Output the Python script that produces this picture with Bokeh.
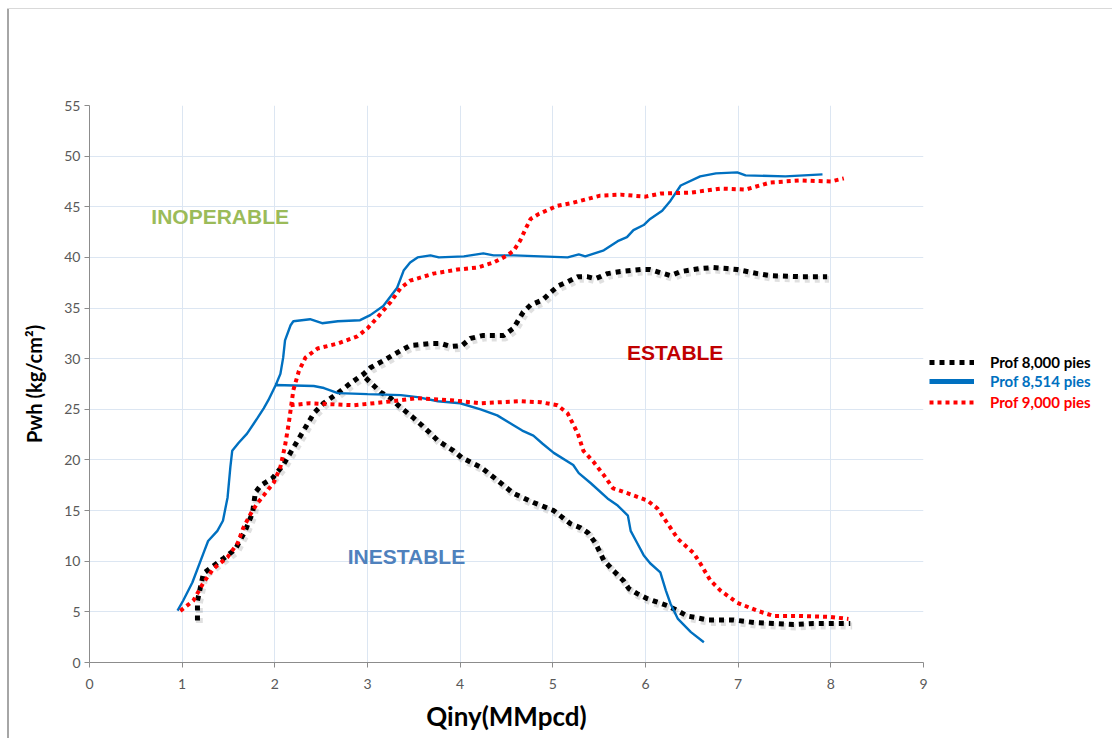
import numpy as np
from bokeh.plotting import figure
from bokeh.layouts import row
from bokeh.models import ColumnDataSource, Legend, LegendItem, FixedTicker, Range1d
from bokeh.core.properties import value
from bokeh.embed import file_html
from bokeh.resources import INLINE

# ---------------- data ----------------
# Prof 8,000 pies (black dotted) - rising branch
black_up_x = [1.165, 1.165, 1.23, 1.45, 1.575, 1.68, 1.76, 1.79, 1.85, 1.975, 2.09, 2.2, 2.31, 2.42,
              2.525, 2.68, 2.82, 2.96, 3.03, 3.17, 3.32, 3.46, 3.68, 3.79, 3.9, 4.02, 4.11, 4.25,
              4.47, 4.575, 4.68, 4.76, 4.89, 4.97, 5.06, 5.16, 5.27, 5.37, 5.46, 5.59, 5.73, 5.95,
              6.05, 6.16, 6.27, 6.38, 6.59, 6.73, 6.88, 6.99, 7.21, 7.35, 7.67, 7.96]
black_up_y = [4.15, 6.1, 8.8, 10.3, 11.2, 13.0, 14.8, 16.8, 17.5, 18.2, 19.5, 21.2, 22.9, 24.6,
              25.6, 26.6, 27.6, 28.5, 29.1, 29.8, 30.6, 31.3, 31.5, 31.5, 31.2, 31.3, 32.0, 32.3,
              32.3, 33.0, 34.6, 35.3, 35.8, 36.5, 37.2, 37.6, 38.1, 38.1, 37.9, 38.4, 38.6, 38.8,
              38.8, 38.5, 38.2, 38.6, 38.9, 39.0, 38.9, 38.8, 38.4, 38.2, 38.1, 38.1]
# Prof 8,000 pies - falling branch
black_dn_x = [2.98, 3.14, 3.25, 3.33, 3.49, 3.59, 3.76, 3.93, 4.02, 4.22, 4.36, 4.575, 4.79, 5.01,
              5.19, 5.30, 5.38, 5.46, 5.55, 5.65, 5.76, 5.82, 5.91, 6.02, 6.24, 6.35, 6.45, 6.67,
              6.95, 7.17, 7.38, 7.6, 7.81, 8.03, 8.21]
black_dn_y = [28.1, 26.7, 26.1, 25.4, 24.2, 23.4, 21.9, 20.9, 20.2, 19.3, 18.3, 16.7, 15.8, 15.0,
              13.7, 13.3, 12.8, 11.8, 10.1, 9.1, 8.1, 7.3, 6.8, 6.3, 5.6, 5.1, 4.6, 4.2,
              4.2, 3.95, 3.85, 3.75, 3.85, 3.85, 3.85]

# Prof 8,514 pies (blue solid)
blue_up_x = [0.95, 1.01, 1.11, 1.23, 1.28, 1.38, 1.44, 1.49, 1.52, 1.54, 1.61, 1.70, 1.81, 1.88,
             1.93, 2.01, 2.06, 2.09, 2.11, 2.17, 2.2, 2.38, 2.51, 2.68, 2.92, 3.03, 3.17, 3.32,
             3.39, 3.46, 3.54, 3.68, 3.77, 4.04, 4.25, 4.36, 4.58, 4.87, 5.16, 5.28, 5.35, 5.55,
             5.70, 5.80, 5.87, 5.98, 6.05, 6.18, 6.27, 6.38, 6.59, 6.76, 6.99, 7.08, 7.51, 7.91]
blue_up_y = [5.13, 6.1, 7.9, 10.8, 12.0, 13.0, 14.0, 16.3, 19.3, 20.9, 21.7, 22.6, 24.1, 25.1,
             25.9, 27.4, 28.5, 30.1, 31.8, 33.3, 33.7, 33.9, 33.5, 33.7, 33.8, 34.3, 35.2, 37.0,
             38.7, 39.5, 40.0, 40.2, 40.0, 40.1, 40.4, 40.2, 40.2, 40.1, 40.0, 40.3, 40.1, 40.7,
             41.6, 42.0, 42.7, 43.2, 43.8, 44.6, 45.6, 47.1, 48.0, 48.3, 48.4, 48.1, 48.0, 48.2]
blue_dn_x = [2.0, 2.42, 2.53, 2.68, 3.0, 3.36, 3.54, 3.76, 4.0, 4.22, 4.40, 4.58, 4.67, 4.79,
             4.89, 5.01, 5.22, 5.28, 5.41, 5.59, 5.70, 5.81, 5.84, 5.91, 5.98, 6.05, 6.16, 6.22,
             6.27, 6.35, 6.49, 6.63]
blue_dn_y = [27.4, 27.3, 27.1, 26.6, 26.5, 26.4, 26.2, 25.8, 25.6, 25.0, 24.4, 23.4, 22.9, 22.4,
             21.6, 20.7, 19.5, 18.7, 17.7, 16.2, 15.5, 14.5, 13.0, 11.8, 10.6, 9.8, 8.9, 7.1,
             5.8, 4.3, 3.0, 2.0]

# Prof 9,000 pies (red dotted)
red_up_x = [0.98, 1.12, 1.23, 1.34, 1.49, 1.60, 1.66, 1.74, 1.81, 1.88, 1.99, 2.06, 2.11, 2.15,
            2.2, 2.26, 2.33, 2.46, 2.68, 2.89, 3.0, 3.11, 3.25, 3.36, 3.46, 3.71, 3.97, 4.19,
            4.36, 4.51, 4.58, 4.65, 4.70, 4.76, 4.85, 5.05, 5.22, 5.51, 5.73, 6.0, 6.16, 6.49,
            6.81, 7.08, 7.35, 7.67, 8.0, 8.14]
red_up_y = [5.1, 6.1, 7.9, 9.3, 10.4, 11.8, 13.3, 14.7, 15.7, 16.5, 17.8, 19.3, 21.4, 23.6,
            26.9, 28.8, 30.1, 31.0, 31.5, 32.2, 33.0, 34.1, 35.6, 37.0, 37.7, 38.4, 38.8, 39.0,
            39.5, 40.2, 40.7, 41.7, 42.7, 43.8, 44.3, 45.1, 45.4, 46.1, 46.2, 46.0, 46.3, 46.4,
            46.8, 46.7, 47.4, 47.6, 47.5, 47.8]
red_dn_x = [2.17, 2.38, 2.85, 3.17, 3.54, 3.90, 4.22, 4.43, 4.65, 4.87, 5.05, 5.16, 5.27, 5.33,
            5.44, 5.55, 5.65, 5.81, 6.02, 6.13, 6.24, 6.35, 6.52, 6.59, 6.70, 6.81, 6.99, 7.21,
            7.38, 7.64, 8.0, 8.19]
red_dn_y = [25.4, 25.6, 25.4, 25.7, 26.1, 25.9, 25.6, 25.7, 25.8, 25.7, 25.4, 24.6, 22.6, 20.9,
            19.8, 18.5, 17.2, 16.7, 16.0, 15.2, 13.7, 12.2, 10.8, 9.8, 8.1, 7.1, 5.9, 5.1,
            4.6, 4.6, 4.5, 4.3]

x_ticks = [0, 1, 2, 3, 4, 5, 6, 7, 8, 9]
y_ticks = [0, 5, 10, 15, 20, 25, 30, 35, 40, 45, 50, 55]

series_names = ["Prof 8,000 pies", "Prof 8,514 pies", "Prof 9,000 pies"]

region_labels = ["INOPERABLE", "ESTABLE", "INESTABLE"]
region_x = [1.41, 6.32, 3.42]
region_y = [44.0, 30.6, 10.5]
region_colors = ["#9BBB59", "#C00000", "#4F81BD"]


def join(ax, ay, bx, by):
    return ax + [np.nan] + bx, ay + [np.nan] + by


H = 738
TOP, BOTTOM = 105, 76

# ---------------- main figure ----------------
p = figure(width=928, height=H, output_backend="svg", toolbar_location=None,
           x_range=(0, 9), y_range=(0, 55),
           min_border_left=89, min_border_right=5, min_border_top=TOP, min_border_bottom=BOTTOM)
p.outline_line_color = None
p.background_fill_color = "white"
p.border_fill_alpha = 0

grid_col = "#dce6f2"
p.xgrid.ticker = FixedTicker(ticks=x_ticks)
p.ygrid.ticker = FixedTicker(ticks=y_ticks)
p.xgrid.grid_line_color = grid_col
p.ygrid.grid_line_color = grid_col

for ax in (p.xaxis[0], p.yaxis[0]):
    ax.axis_line_color = "#8c8c8c"
    ax.major_tick_line_color = "#8c8c8c"
    ax.minor_tick_line_color = None
    ax.major_tick_out = 5
    ax.major_tick_in = 0
    ax.major_label_text_font = "Lato"
    ax.major_label_text_font_size = "14px"
    ax.major_label_text_color = "#595959"
    ax.axis_label_text_font = "Lato"
    ax.axis_label_text_font_style = "bold"
    ax.axis_label_text_color = "#000000"

p.xaxis.ticker = FixedTicker(ticks=x_ticks)
p.yaxis.ticker = FixedTicker(ticks=y_ticks)
p.xaxis.axis_label = "Qiny(MMpcd)"
p.xaxis.axis_label_text_font_size = "26px"
p.xaxis.major_label_standoff = 11
p.xaxis.axis_label_standoff = 8
p.yaxis.axis_label = "Pwh (kg/cm²)"
p.yaxis.axis_label_text_font_size = "20px"
p.yaxis.major_label_standoff = 4
p.yaxis.axis_label_standoff = 15

# ---------------- curves ----------------
bx, by = join(black_up_x, black_up_y, black_dn_x, black_dn_y)
ux, uy = join(blue_up_x, blue_up_y, blue_dn_x, blue_dn_y)
rx, ry = join(red_up_x, red_up_y, red_dn_x, red_dn_y)

# soft shadow for the black dotted curve
p.line([v + 0.02 for v in bx], [v - 0.25 for v in by], line_color="#000000", line_alpha=0.12,
       line_width=7, line_dash="5 5")
p.line(bx, by, line_color="#000000", line_width=5, line_dash="5 5")
p.line(ux, uy, line_color="#0070C0", line_width=2.4)
p.line(rx, ry, line_color="#FF0000", line_width=4, line_dash="4 4")

# ---------------- region labels ----------------
lab_src = ColumnDataSource(dict(x=region_x, y=region_y, text=region_labels, color=region_colors))
p.text(x="x", y="y", text="text", text_color="color", source=lab_src,
       text_font=value("Liberation Sans"), text_font_style="bold", text_font_size="21px",
       text_align="center", text_baseline="middle")

# ---------------- legend panel ----------------
lp = figure(width=184, height=H, output_backend="svg", toolbar_location=None,
            x_range=Range1d(0, 1), y_range=Range1d(0, 1),
            min_border_left=0, min_border_right=0, min_border_top=TOP, min_border_bottom=BOTTOM)
lp.axis.visible = False
lp.grid.visible = False
lp.outline_line_color = None
lp.background_fill_alpha = 0
lp.border_fill_alpha = 0

# swatch-only renderers (nothing drawn in the panel itself)
nan2 = [np.nan, np.nan]
r_black_leg = lp.line(nan2, nan2, line_color="#000000", line_width=5, line_dash="5 5")
r_blue_leg = lp.line(nan2, nan2, line_color="#0070C0", line_width=5)
r_red_leg = lp.line(nan2, nan2, line_color="#FF0000", line_width=4, line_dash="4 4")

legend_colors = ["#000000", "#0070C0", "#FF0000"]
legend_renderers = [r_black_leg, r_blue_leg, r_red_leg]
legend_bottoms = [291, 272, 251]
for name, col, rend, yb in zip(series_names, legend_colors, legend_renderers, legend_bottoms):
    lg = Legend(items=[LegendItem(label=name, renderers=[rend])],
                location=(1, yb), orientation="vertical",
                label_text_color=col, label_text_font="Lato", label_text_font_style="bold",
                label_text_font_size="15px", glyph_width=45, glyph_height=18,
                label_standoff=16, padding=0, margin=0, spacing=0,
                border_line_color=None, background_fill_alpha=0)
    lp.add_layout(lg, "center")

layout = row(p, lp)
layout.styles = {
    "background": ("linear-gradient(#d9d9d9, #d9d9d9) 7px 8px / 100% 1px no-repeat, "
                   "linear-gradient(#a6a6a6, #a6a6a6) 7px 8px / 2px 100% no-repeat, white")
}
open("out.html", "w").write(file_html(layout, INLINE))
